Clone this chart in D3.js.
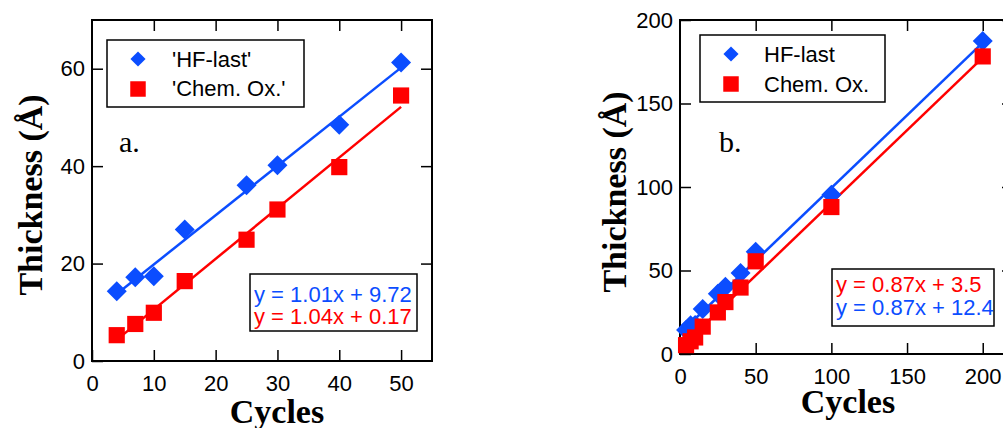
<!DOCTYPE html>
<html>
<head>
<meta charset="utf-8">
<script src="https://cdn.jsdelivr.net/npm/d3@7"></script>
<style>
    body { margin: 0; background: #fff; }
    svg { display: block; }
    .tick text { font-family: "Liberation Sans", Arial, sans-serif; font-size: 22px; fill: #000; }
</style>
</head>
<body>
<svg id="chart" width="1003" height="428"></svg>
<script>
// data (same cycles / thickness series in both panels, b adds 100 and 200 cycles)
const cyclesA = [4, 7, 10, 15, 25, 30, 40, 50];
const hfLastA = [14.3, 17.2, 17.4, 27.0, 36.1, 40.2, 48.5, 61.3];
const chemOxA = [5.3, 7.6, 9.9, 16.4, 24.9, 31.1, 39.8, 54.5];

const cyclesB = [4, 7, 10, 15, 25, 30, 40, 50, 100, 200];
const hfLastB = [14.3, 17.2, 17.4, 27.0, 36.1, 40.2, 48.5, 61.3, 95.4, 187.4];
const chemOxB = [5.3, 7.6, 9.9, 16.4, 24.9, 31.1, 39.8, 55.5, 88.0, 178.2];

// linear fits as printed on the chart: [slope, intercept]
const fitHfA = [1.01, 9.72];
const fitChemA = [1.04, 0.17];
const fitHfB = [0.87, 12.4];
const fitChemB = [0.87, 3.5];

const xTicksA = [0, 10, 20, 30, 40, 50];
const yTicksA = [0, 20, 40, 60];
const xTicksB = [0, 50, 100, 150, 200];
const yTicksB = [0, 50, 100, 150, 200];

const BLUE = "#0b4dff";
const RED = "#ff0000";
const SANS = "'Liberation Sans', Arial, sans-serif";
const SERIF = "'Liberation Serif', 'Times New Roman', serif";

const svg = d3.select("#chart");

function drawPanel(p) {
    let g = svg.append("g");

    let x = d3.scaleLinear().domain(p.xDomain).range([p.left, p.right]);
    let y = d3.scaleLinear().domain(p.yDomain).range([p.bottom, p.top]);

    // axes, ticks pointing inward
    g.append("g")
        .attr("transform", "translate(0," + p.bottom + ")")
        .call(d3.axisBottom(x).tickValues(p.xTicks).tickSize(-11).tickPadding(14).tickFormat(d3.format("d")))
        .call(a => a.select(".domain").remove())
        .call(a => a.selectAll("line").attr("stroke-width", 1.5));
    g.append("g")
        .attr("transform", "translate(0," + p.top + ")")
        .call(d3.axisTop(x).tickValues(p.xTicks.filter(d => d > 0)).tickSize(-11).tickFormat(""))
        .call(a => a.select(".domain").remove())
        .call(a => a.selectAll("line").attr("stroke-width", 1.5));
    g.append("g")
        .attr("transform", "translate(" + p.left + ",0)")
        .call(d3.axisLeft(y).tickValues(p.yTicks).tickSize(-11).tickPadding(7).tickFormat(d3.format("d")))
        .call(a => a.select(".domain").remove())
        .call(a => a.selectAll("line").attr("stroke-width", 1.5));
    g.append("g")
        .attr("transform", "translate(" + p.right + ",0)")
        .call(d3.axisRight(y).tickValues(p.yTicks.filter(d => d > 0)).tickSize(-11).tickFormat(""))
        .call(a => a.select(".domain").remove())
        .call(a => a.selectAll("line").attr("stroke-width", 1.5));

    // frame
    g.append("rect")
        .attr("x", p.left).attr("y", p.top)
        .attr("width", p.right - p.left).attr("height", p.bottom - p.top)
        .attr("fill", "none").attr("stroke", "#000").attr("stroke-width", 2);

    // fit lines
    let fits = [{fit: p.fitHf, color: BLUE}, {fit: p.fitChem, color: RED}];
    let x0 = d3.min(p.cycles), x1 = d3.max(p.cycles);
    fits.forEach(f => {
        g.append("line")
            .attr("x1", x(x0)).attr("y1", y(f.fit[0] * x0 + f.fit[1]))
            .attr("x2", x(x1)).attr("y2", y(f.fit[0] * x1 + f.fit[1]))
            .attr("stroke", f.color).attr("stroke-width", 2.5);
    });

    let diamond = d3.symbol().type(d3.symbolSquare).size(200);
    let square = d3.symbol().type(d3.symbolSquare).size(262);

    // data markers
    g.selectAll(".hf").data(p.cycles).enter()
        .append("path")
        .attr("d", diamond)
        .attr("transform", (d, i) => "translate(" + x(d) + "," + y(p.hf[i]) + ") rotate(45)")
        .attr("fill", BLUE);
    g.selectAll(".chem").data(p.cycles).enter()
        .append("path")
        .attr("d", square)
        .attr("transform", (d, i) => "translate(" + x(d) + "," + y(p.chem[i]) + ")")
        .attr("fill", RED);

    // legend
    let L = p.legend;
    g.append("rect")
        .attr("x", L.x).attr("y", L.y).attr("width", L.w).attr("height", L.h)
        .attr("fill", "#fff").attr("stroke", "#000").attr("stroke-width", 1.5);
    g.append("path")
        .attr("d", d3.symbol().type(d3.symbolSquare).size(115))
        .attr("transform", "translate(" + L.mx + "," + L.my1 + ") rotate(45)")
        .attr("fill", BLUE);
    g.append("path")
        .attr("d", d3.symbol().type(d3.symbolSquare).size(240))
        .attr("transform", "translate(" + L.mx + "," + L.my2 + ")")
        .attr("fill", RED);
    g.append("text").attr("x", L.tx).attr("y", L.ty1).text(p.names[0])
        .style("font", "22px " + SANS);
    g.append("text").attr("x", L.tx).attr("y", L.ty2).text(p.names[1])
        .style("font", "22px " + SANS);

    // panel letter
    g.append("text").attr("x", p.letter.x).attr("y", p.letter.y).text(p.letter.text)
        .style("font", "30px " + SERIF);

    // equation box
    let E = p.eq;
    g.append("rect")
        .attr("x", E.x).attr("y", E.y).attr("width", E.w).attr("height", E.h)
        .attr("fill", "#fff").attr("stroke", "#000").attr("stroke-width", 1.5);
    E.lines.forEach((ln, i) => {
        g.append("text").attr("x", E.tx).attr("y", E.ty[i]).text(ln.text)
            .attr("fill", ln.color)
            .style("font", "22px " + SANS);
    });

    // axis titles
    g.append("text")
        .attr("x", p.xTitle.x).attr("y", p.xTitle.y)
        .attr("text-anchor", "middle")
        .text("Cycles")
        .style("font", "bold 34px " + SERIF);
    g.append("text")
        .attr("transform", "translate(" + p.yTitle.x + "," + p.yTitle.y + ") rotate(-90)")
        .attr("text-anchor", "middle")
        .text("Thickness (Å)")
        .style("font", "bold 34px " + SERIF);
}

drawPanel({
    left: 92, right: 432, top: 20, bottom: 361,
    xDomain: [0, 55], yDomain: [0, 70],
    xTicks: xTicksA, yTicks: yTicksA,
    cycles: cyclesA, hf: hfLastA, chem: chemOxA,
    fitHf: fitHfA, fitChem: fitChemA,
    names: ["'HF-last'", "'Chem. Ox.'"],
    legend: {x: 107, y: 40, w: 197, h: 67, mx: 138, my1: 59, my2: 89, tx: 172, ty1: 67, ty2: 96},
    letter: {x: 119, y: 152, text: "a."},
    eq: {x: 250, y: 274, w: 167, h: 57, tx: 254, ty: [302, 324],
        lines: [{text: "y = 1.01x + 9.72", color: BLUE}, {text: "y = 1.04x + 0.17", color: RED}]},
    xTitle: {x: 277, y: 423},
    yTitle: {x: 42, y: 195}
});

drawPanel({
    left: 680, right: 1013, top: 20, bottom: 354,
    xDomain: [0, 220], yDomain: [0, 200],
    xTicks: xTicksB, yTicks: yTicksB,
    cycles: cyclesB, hf: hfLastB, chem: chemOxB,
    fitHf: fitHfB, fitChem: fitChemB,
    names: ["HF-last", "Chem. Ox."],
    legend: {x: 700, y: 35, w: 185, h: 67, mx: 731, my1: 54, my2: 84, tx: 764, ty1: 62, ty2: 92},
    letter: {x: 719, y: 152, text: "b."},
    eq: {x: 832, y: 269, w: 162, h: 57, tx: 836, ty: [292, 315],
        lines: [{text: "y = 0.87x + 3.5", color: RED}, {text: "y = 0.87x + 12.4", color: BLUE}]},
    xTitle: {x: 848, y: 413},
    yTitle: {x: 626, y: 192}
});
</script>
</body>
</html>
